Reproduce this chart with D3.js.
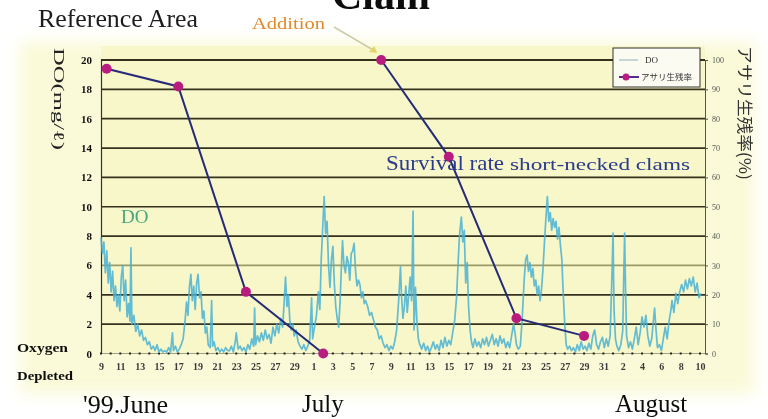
<!DOCTYPE html>
<html>
<head>
<meta charset="utf-8">
<script src="https://cdn.jsdelivr.net/npm/d3@7/dist/d3.min.js"></script>
<style>
  * { margin: 0; padding: 0; }
  body { background: #fff; }
  svg { display: block; }
  text { font-family: "Liberation Serif", "DejaVu Serif", serif; }
</style>
</head>
<body>
<div id="chart"></div>
<script>
// ---- data ----
var startDay = "1999/6/9";
var endDay = "1999/8/10";

var doTicks = [0, 2, 4, 6, 8, 10, 12, 14, 16, 18, 20];
var rateTicks = [0, 10, 20, 30, 40, 50, 60, 70, 80, 90, 100];
var dateTicks = ["6/9", "6/11", "6/13", "6/15", "6/17", "6/19", "6/21", "6/23", "6/25", "6/27", "6/29",
  "7/1", "7/3", "7/5", "7/7", "7/9", "7/11", "7/13", "7/15", "7/17", "7/19", "7/21", "7/23", "7/25",
  "7/27", "7/29", "7/31", "8/2", "8/4", "8/6", "8/8", "8/10"];

// clam survival rate (%), two batches of clams (second batch added on 7/8)
var survivalDates = ["6/9 14:00", "6/17 0:00", "6/24 0:00", "7/2 0:00", "7/8 0:00", "7/15 0:00", "7/22 0:00", "7/29 0:00"];
var survivalRate = [97, 91, 21, 0, 100, 67, 12, 6];
var survivalBatch = [1, 1, 1, 1, 2, 2, 2, 2];

// dissolved oxygen, [days after June 9, mg/L]
var doSeries = [
  [0.0, 7.9], [0.15, 6.8], [0.3, 7.6], [0.45, 5.5], [0.6, 7.0], [0.75, 4.8], [0.9, 6.2], [1.05, 4.2],
  [1.2, 5.6], [1.35, 3.6], [1.5, 4.6], [1.65, 3.2], [1.8, 4.0], [1.95, 2.9], [2.1, 5.2], [2.25, 6.0],
  [2.4, 3.6], [2.55, 5.0], [2.7, 2.5], [2.85, 3.4], [3.0, 2.2], [3.1, 7.2], [3.2, 2.0], [3.4, 2.6],
  [3.6, 1.5], [3.8, 2.0], [4.0, 1.2], [4.2, 1.6], [4.4, 0.9], [4.6, 1.1], [4.8, 0.6],
  [5.0, 0.8], [5.2, 0.3], [5.4, 0.5], [5.6, 0.2], [5.8, 0.6], [6.0, 0.1], [6.2, 0.3], [6.4, 0.1],
  [6.6, 0.2], [6.8, 0.1], [7.0, 0.4], [7.2, 0.1], [7.4, 1.4], [7.5, 0.2], [7.7, 0.5], [7.9, 0.1],
  [8.1, 0.3], [8.3, 0.6], [8.5, 1.0],
  [8.7, 2.2], [8.85, 3.5], [9.0, 2.6], [9.15, 4.5], [9.3, 5.4], [9.45, 3.6], [9.6, 4.6], [9.75, 3.0],
  [9.9, 4.8], [10.05, 5.4], [10.2, 3.8], [10.35, 4.2], [10.5, 2.4], [10.65, 2.9], [10.8, 1.4],
  [10.95, 1.8], [11.1, 0.6], [11.3, 0.4], [11.45, 3.6], [11.55, 0.5], [11.7, 0.8], [11.9, 0.2],
  [12.1, 0.4], [12.3, 0.1], [12.5, 0.3], [12.7, 0.1], [12.9, 0.4], [13.1, 0.2], [13.3, 0.2], [13.5, 0.5],
  [13.7, 0.1], [13.9, 0.8], [14.0, 1.4], [14.2, 0.3], [14.4, 0.5], [14.6, 0.2], [14.8, 0.4], [15.0, 0.1],
  [15.2, 0.6], [15.4, 0.3], [15.6, 1.0], [15.8, 0.5], [15.9, 3.1], [16.0, 0.6], [16.2, 1.2], [16.4, 0.8],
  [16.6, 1.4], [16.8, 0.9], [17.0, 1.6], [17.2, 1.0], [17.4, 1.3], [17.6, 0.7], [17.8, 1.8], [18.0, 1.2],
  [18.2, 2.0], [18.4, 1.4], [18.6, 2.4],
  [18.8, 1.8], [18.95, 3.4], [19.1, 5.2], [19.25, 3.2], [19.4, 4.0], [19.55, 2.2], [19.7, 1.6],
  [19.85, 2.0], [20.0, 1.2], [20.2, 1.6], [20.4, 0.8], [20.6, 0.5],
  [20.8, 0.3], [21.0, 0.6], [21.2, 0.2], [21.4, 0.5], [21.6, 0.9], [21.8, 3.8], [21.9, 1.0], [22.1, 1.8],
  [22.3, 2.6], [22.5, 4.2], [22.65, 3.0], [22.8, 6.5], [22.95, 8.6], [23.1, 10.7], [23.25, 8.2],
  [23.4, 9.0], [23.55, 6.0], [23.7, 4.5], [23.85, 6.4], [24.0, 7.3], [24.15, 4.8], [24.3, 3.2],
  [24.45, 2.4], [24.6, 1.8], [24.75, 3.6], [24.9, 6.2], [25.0, 7.7], [25.15, 6.0], [25.3, 5.5],
  [25.45, 6.6], [25.6, 6.2], [25.75, 5.0], [25.9, 6.8], [26.05, 7.0], [26.2, 7.5], [26.35, 5.6],
  [26.5, 4.6], [26.65, 5.0], [26.8, 4.7], [26.95, 3.8], [27.1, 4.2], [27.25, 3.4], [27.4, 3.6],
  [27.6, 3.2], [27.8, 2.6], [28.0, 2.8], [28.2, 2.3], [28.4, 1.8], [28.6, 1.6], [28.8, 1.0],
  [29.0, 1.2], [29.2, 0.7], [29.4, 0.4],
  [29.6, 0.6], [29.8, 0.2], [30.0, 0.5], [30.2, 0.3], [30.4, 0.8], [30.6, 1.6], [30.8, 3.5], [31.0, 5.9],
  [31.1, 4.0], [31.25, 2.4], [31.4, 3.2], [31.55, 4.6], [31.7, 2.8], [31.85, 4.0], [32.0, 5.2],
  [32.15, 3.6], [32.3, 9.7], [32.4, 1.6], [32.55, 4.5], [32.7, 2.2], [32.85, 1.0], [33.0, 0.6],
  [33.2, 0.3], [33.4, 0.7], [33.6, 0.2], [33.8, 0.5], [34.0, 0.1], [34.2, 0.4], [34.4, 0.8], [34.6, 0.3],
  [34.8, 0.6], [35.0, 0.2], [35.2, 0.9], [35.4, 0.4], [35.6, 1.1], [35.8, 0.5], [36.0, 0.9], [36.2, 0.6],
  [36.4, 1.4], [36.6, 2.2], [36.8, 3.8], [36.95, 6.0], [37.1, 8.0], [37.3, 9.3], [37.45, 7.6],
  [37.6, 8.4], [37.75, 4.8], [37.9, 6.2], [38.05, 3.2], [38.2, 1.6], [38.35, 0.8], [38.5, 0.4],
  [38.7, 1.0], [38.9, 0.5], [39.1, 0.8], [39.3, 0.4], [39.5, 1.0], [39.7, 0.6], [39.9, 1.1], [40.1, 0.5],
  [40.3, 0.9], [40.5, 1.3], [40.7, 0.6], [40.9, 1.0], [41.1, 0.5], [41.3, 1.2], [41.5, 0.7], [41.7, 1.0],
  [41.9, 0.4],
  [42.1, 0.8], [42.3, 0.4], [42.5, 1.2], [42.7, 2.0], [42.85, 1.4], [43.0, 0.6], [43.2, 0.3], [43.4, 0.5],
  [43.6, 2.4], [43.8, 5.0], [43.95, 6.4], [44.1, 6.7], [44.25, 5.6], [44.4, 6.2], [44.55, 5.2],
  [44.7, 5.8], [44.85, 4.6], [45.0, 5.0], [45.15, 4.0], [45.3, 4.6], [45.45, 3.6], [45.6, 4.4],
  [45.75, 5.8], [45.9, 7.6], [46.05, 9.2], [46.2, 10.7], [46.35, 9.0], [46.5, 9.6], [46.65, 8.4],
  [46.8, 9.2], [46.95, 8.6], [47.1, 9.0], [47.25, 7.8], [47.4, 8.6], [47.55, 7.4], [47.7, 6.4],
  [47.85, 4.0], [48.0, 2.0], [48.15, 0.6], [48.3, 0.3], [48.5, 0.5], [48.7, 0.2],
  [48.9, 0.4], [49.1, 0.1], [49.3, 0.6], [49.5, 0.2], [49.7, 0.8], [49.9, 0.3], [50.1, 0.5], [50.3, 0.2],
  [50.5, 0.7], [50.7, 0.3], [50.9, 1.2], [51.1, 1.6], [51.3, 0.6], [51.5, 0.3], [51.7, 0.8], [51.9, 1.1],
  [52.1, 0.4], [52.3, 1.0], [52.5, 0.5], [52.7, 1.2], [52.85, 4.5], [53.0, 8.2], [53.1, 3.0],
  [53.25, 1.0], [53.4, 0.5], [53.6, 0.2], [53.8, 0.6], [54.0, 1.5], [54.1, 5.0], [54.2, 8.2], [54.3, 4.2],
  [54.4, 1.2], [54.6, 0.4], [54.8, 0.8], [55.0, 0.3], [55.2, 1.0], [55.4, 1.8], [55.6, 0.6], [55.8, 1.4],
  [56.0, 2.5], [56.2, 1.8], [56.4, 2.6], [56.6, 1.2], [56.8, 0.5], [57.0, 1.0], [57.2, 2.4], [57.3, 3.1],
  [57.45, 1.6], [57.6, 0.4], [57.8, 0.6], [58.0, 0.2], [58.2, 1.0], [58.4, 1.8], [58.6, 1.0], [58.8, 2.2],
  [59.0, 3.0], [59.1, 3.6], [59.3, 2.8], [59.5, 4.1], [59.7, 3.4], [59.9, 4.2], [60.1, 4.7], [60.3, 4.2],
  [60.5, 5.0], [60.7, 4.4], [60.9, 5.1], [61.1, 4.6], [61.3, 5.2], [61.5, 4.2], [61.7, 4.8], [61.9, 3.8],
  [62.1, 4.1]
];

// ---- drawing ----
var W = 768, H = 419;
var plotLeft = 101, plotRight = 705, plotTop = 60, plotBottom = 353.5;

var parseDay = d3.timeParse("%Y/%m/%d");
var parseTime = d3.timeParse("%Y/%m/%d %H:%M");
var t0 = parseDay(startDay), t1 = parseDay(endDay);

var xScale = d3.scaleTime().domain([t0, t1]).range([plotLeft, 700]);
var yScale = d3.scaleLinear().domain([0, 20]).range([plotBottom, plotTop]);
var y2Scale = d3.scaleLinear().domain([0, 100]).range([plotBottom, plotTop]);

var svg = d3.select("#chart").append("svg")
  .attr("width", W)
  .attr("height", H);

var defs = svg.append("defs");
defs.append("filter").attr("id", "soft")
  .append("feGaussianBlur").attr("stdDeviation", 8);
defs.append("filter").attr("id", "scan")
  .append("feGaussianBlur").attr("stdDeviation", 0.45);

// cream tint of the scanned page
svg.append("rect").attr("x", 20).attr("y", 42).attr("width", 735).attr("height", 352)
  .attr("fill", "#fafad8").attr("filter", "url(#soft)");
svg.append("rect")
  .attr("x", plotLeft).attr("y", 46)
  .attr("width", plotRight - plotLeft).attr("height", plotBottom - 46)
  .attr("fill", "#f7f7c9");

var g = svg.append("g").attr("filter", "url(#scan)");

// title cut off at top of the scan
g.append("text").attr("x", 381).attr("y", 9).attr("text-anchor", "middle")
  .style("font-size", "42px").style("font-weight", "bold").attr("fill", "#111").text("Clam");

// horizontal grid lines
g.selectAll(".grid").data(doTicks.filter(function (d) { return d > 0; }))
  .enter().append("line")
  .attr("x1", plotLeft).attr("x2", plotRight)
  .attr("y1", function (d) { return yScale(d); })
  .attr("y2", function (d) { return yScale(d); })
  .attr("stroke", function (d) { return d == 6 ? "#9c9a68" : "#35331f"; })
  .attr("stroke-width", function (d) { return d == 20 ? 2 : 1.7; });

// left axis
var leftAxis = g.append("g")
  .attr("transform", "translate(" + plotLeft + ",0)")
  .call(d3.axisLeft(yScale).tickValues(doTicks).tickSize(0).tickPadding(9));
leftAxis.select(".domain").attr("stroke", "#333").attr("stroke-width", 1.2);
leftAxis.selectAll("text")
  .style("font-family", "'Liberation Serif', serif")
  .style("font-size", "11px").style("font-weight", "bold").attr("fill", "#111");

// right axis
var rightAxis = g.append("g")
  .attr("transform", "translate(" + plotRight + ",0)")
  .call(d3.axisRight(y2Scale).tickValues(rateTicks).tickSize(3).tickPadding(4));
rightAxis.select(".domain").attr("stroke", "#555").attr("stroke-width", 1);
rightAxis.selectAll("line").attr("stroke", "#555");
rightAxis.selectAll("text")
  .style("font-family", "'Liberation Serif', serif")
  .style("font-size", "8px").attr("fill", "#555");

// bottom axis: dotted day ticks and date labels
var dayDates = d3.timeDay.range(t0, d3.timeDay.offset(t1, 1));
g.append("line").attr("x1", plotLeft).attr("x2", plotRight)
  .attr("y1", plotBottom).attr("y2", plotBottom)
  .attr("stroke", "#8a8a70").attr("stroke-width", 0.8);
g.selectAll(".dayTick").data(dayDates).enter().append("rect")
  .attr("x", function (d) { return xScale(d) - 1; })
  .attr("y", plotBottom - 1)
  .attr("width", 2).attr("height", 2)
  .attr("fill", "#222");

var bottomAxis = g.append("g")
  .attr("transform", "translate(0," + plotBottom + ")")
  .call(d3.axisBottom(xScale)
    .tickValues(dateTicks.map(function (s) { return parseDay("1999/" + s); }))
    .tickFormat(d3.timeFormat("%-d"))
    .tickSize(0).tickPadding(9));
bottomAxis.select(".domain").remove();
bottomAxis.selectAll("text")
  .style("font-family", "'Liberation Serif', serif")
  .style("font-size", "10px").style("font-weight", "bold")
  .attr("fill", "#3a3a3a");

// DO series
var doLine = d3.line()
  .x(function (d) { return xScale(new Date(t0.getTime() + d[0] * 864e5)); })
  .y(function (d) { return yScale(d[1]); });
g.append("path").datum(doSeries)
  .attr("d", doLine)
  .attr("fill", "none")
  .attr("stroke", "#4ab2d4")
  .attr("stroke-width", 1.7)
  .attr("stroke-linejoin", "round")
  .attr("opacity", 0.85);

// survival rate series, one line per batch
var survival = survivalDates.map(function (s, i) {
  return { date: parseTime("1999/" + s), value: survivalRate[i], batch: survivalBatch[i] };
});
var batches = d3.groups(survival, function (d) { return d.batch; });
var survLine = d3.line()
  .x(function (d) { return xScale(d.date); })
  .y(function (d) { return y2Scale(d.value); });
g.selectAll(".surv").data(batches).enter().append("path")
  .attr("d", function (d) { return survLine(d[1]); })
  .attr("fill", "none")
  .attr("stroke", "#272c78")
  .attr("stroke-width", 2);
g.selectAll(".pt").data(survival).enter().append("circle")
  .attr("cx", function (d) { return xScale(d.date); })
  .attr("cy", function (d) { return y2Scale(d.value); })
  .attr("r", 5)
  .attr("fill", "#b91f7f");

// legend
var lg = g.append("g");
lg.append("rect").attr("x", 613).attr("y", 48).attr("width", 87).attr("height", 39)
  .attr("fill", "#fbfbf2").attr("stroke", "#333").attr("stroke-width", 1);
lg.append("line").attr("x1", 619).attr("x2", 638).attr("y1", 60).attr("y2", 60)
  .attr("stroke", "#8fb0b8").attr("stroke-width", 1);
lg.append("text").attr("x", 645).attr("y", 63).style("font-size", "9px").attr("fill", "#333").text("DO");
lg.append("line").attr("x1", 619).attr("x2", 639).attr("y1", 77).attr("y2", 77)
  .attr("stroke", "#5a2a8a").attr("stroke-width", 2);
lg.append("circle").attr("cx", 626).attr("cy", 77).attr("r", 3.5).attr("fill", "#b91f7f");
lg.append("text").attr("x", 641).attr("y", 80)
  .style("font-family", "'Noto Sans CJK JP', sans-serif")
  .style("font-size", "8.5px").attr("fill", "#333").text("アサリ生残率");

// axis titles
g.append("text")
  .attr("transform", "translate(54,48) rotate(90)")
  .style("font-family", "'Liberation Serif', serif")
  .style("font-size", "15px").attr("fill", "#222")
  .attr("textLength", 102).attr("lengthAdjust", "spacingAndGlyphs")
  .text("DO(mg/ℓ)");
g.append("text")
  .attr("transform", "translate(739,46) rotate(90)")
  .style("font-family", "'Noto Sans CJK JP', sans-serif")
  .style("font-size", "16px").attr("fill", "#333")
  .attr("textLength", 134).attr("lengthAdjust", "spacingAndGlyphs")
  .text("アサリ生残率(%)");

// annotations
g.append("text").attr("x", 38).attr("y", 27)
  .style("font-size", "25px").attr("fill", "#1c1c1c")
  .attr("textLength", 160).attr("lengthAdjust", "spacingAndGlyphs")
  .text("Reference Area");

var addPt = survival[4];
var ax = xScale(addPt.date), ay = y2Scale(addPt.value);
g.append("text").attr("x", 252).attr("y", 29)
  .style("font-size", "16px").attr("fill", "#e08a2a")
  .attr("textLength", 73).attr("lengthAdjust", "spacingAndGlyphs")
  .text("Addition");
g.append("line").attr("x1", 334).attr("y1", 27).attr("x2", ax - 8).attr("y2", ay - 10)
  .attr("stroke", "#cfcaa8").attr("stroke-width", 1.5);
g.append("path")
  .attr("d", "M" + (ax - 4) + "," + (ay - 7) + " L" + (ax - 12) + "," + (ay - 8) + " L" + (ax - 7) + "," + (ay - 14) + "Z")
  .attr("fill", "#e2d36a");

g.append("text").attr("x", 386).attr("y", 170)
  .style("font-size", "21px").attr("fill", "#2b3a8c")
  .attr("textLength", 118).attr("lengthAdjust", "spacingAndGlyphs")
  .text("Survival rate");
g.append("text").attr("x", 510).attr("y", 170)
  .style("font-size", "16px").attr("fill", "#2b3a8c")
  .attr("textLength", 180).attr("lengthAdjust", "spacingAndGlyphs")
  .text("short-necked clams");

g.append("text").attr("x", 121).attr("y", 223)
  .style("font-size", "19px").attr("fill", "#47a87c")
  .text("DO");

g.append("text").attr("x", 17).attr("y", 352)
  .style("font-size", "13px").style("font-weight", "bold").attr("fill", "#111")
  .attr("textLength", 51).attr("lengthAdjust", "spacingAndGlyphs")
  .text("Oxygen");
g.append("text").attr("x", 17).attr("y", 380)
  .style("font-size", "12px").style("font-weight", "bold").attr("fill", "#111")
  .attr("textLength", 56).attr("lengthAdjust", "spacingAndGlyphs")
  .text("Depleted");

g.append("text").attr("x", 83).attr("y", 413)
  .style("font-size", "25px").attr("fill", "#111")
  .attr("textLength", 85).attr("lengthAdjust", "spacingAndGlyphs")
  .text("'99.June");
g.append("text").attr("x", 302).attr("y", 412)
  .style("font-size", "25px").attr("fill", "#111")
  .text("July");
g.append("text").attr("x", 615).attr("y", 412)
  .style("font-size", "25px").attr("fill", "#111")
  .text("August");
</script>
</body>
</html>
